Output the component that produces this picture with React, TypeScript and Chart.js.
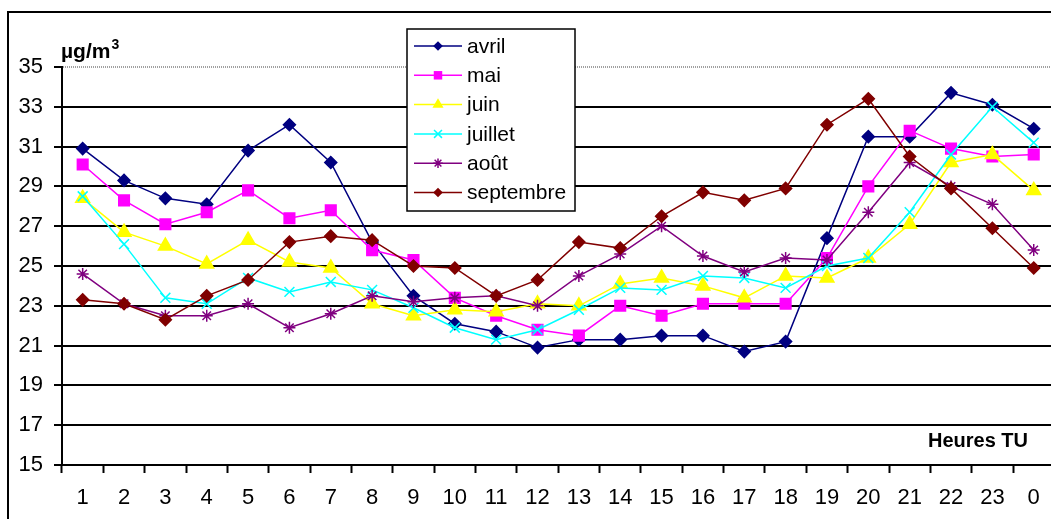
import React, { useEffect, useRef } from 'react';
import { Chart, registerables } from 'chart.js';

Chart.register(...registerables);

const hours = ['1', '2', '3', '4', '5', '6', '7', '8', '9', '10', '11', '12', '13', '14', '15', '16', '17', '18', '19', '20', '21', '22', '23', '0'];

const avril = [30.9, 29.3, 28.4, 28.1, 30.8, 32.1, 30.2, 26.2, 23.5, 22.1, 21.7, 20.9, 21.3, 21.3, 21.5, 21.5, 20.7, 21.2, 26.4, 31.5, 31.5, 33.7, 33.1, 31.9];
const mai = [30.1, 28.3, 27.1, 27.7, 28.8, 27.4, 27.8, 25.8, 25.3, 23.4, 22.5, 21.8, 21.5, 23.0, 22.5, 23.1, 23.1, 23.1, 25.4, 29.0, 31.8, 30.9, 30.5, 30.6];
const juin = [28.4, 26.7, 26.0, 25.1, 26.3, 25.2, 24.9, 23.1, 22.5, 22.8, 22.7, 23.1, 23.0, 24.1, 24.4, 24.0, 23.4, 24.5, 24.4, 25.4, 27.1, 30.2, 30.6, 28.8];
const juillet = [28.5, 26.1, 23.4, 23.1, 24.4, 23.7, 24.2, 23.8, 22.9, 21.9, 21.3, 21.8, 22.8, 23.9, 23.8, 24.5, 24.4, 23.9, 25.0, 25.4, 27.7, 30.6, 33.0, 31.2];
const aout = [24.6, 23.1, 22.5, 22.5, 23.1, 21.9, 22.6, 23.5, 23.2, 23.4, 23.5, 23.0, 24.5, 25.6, 27.0, 25.5, 24.7, 25.4, 25.3, 27.7, 30.2, 29.0, 28.1, 25.8];
const septembre = [23.3, 23.1, 22.3, 23.5, 24.3, 26.2, 26.5, 26.3, 25.0, 24.9, 23.5, 24.3, 26.2, 25.9, 27.5, 28.7, 28.3, 28.9, 32.1, 33.4, 30.5, 28.9, 26.9, 24.9];

const seriesNames = ['avril', 'mai', 'juin', 'juillet', 'août', 'septembre'];
const seriesData = [avril, mai, juin, juillet, aout, septembre];
const seriesColors = ['#000080', '#FF00FF', '#FFFF00', '#00FFFF', '#800080', '#800000'];
const seriesStyles = ['rectRot', 'rect', 'triangle', 'crossRot', 'star', 'rectRot'];
const seriesRadius = [6, 7.5, 8, 7, 6, 6];

const yTitle = 'µg/m';
const yTitleSup = '3';
const xTitle = 'Heures TU';

const FONT = "'Liberation Sans', Arial, sans-serif";

function drawMarker(ctx: CanvasRenderingContext2D, style: string, x: number, y: number, r: number, color: string) {
  ctx.save();
  ctx.fillStyle = color;
  ctx.strokeStyle = color;
  ctx.lineWidth = 1.5;
  ctx.beginPath();
  if (style === 'rectRot') {
    ctx.moveTo(x, y - r);
    ctx.lineTo(x + r, y);
    ctx.lineTo(x, y + r);
    ctx.lineTo(x - r, y);
    ctx.closePath();
    ctx.fill();
  } else if (style === 'rect') {
    const s = r * Math.SQRT1_2;
    ctx.rect(x - s, y - s, 2 * s, 2 * s);
    ctx.fill();
  } else if (style === 'triangle') {
    ctx.moveTo(x, y - r);
    ctx.lineTo(x + r * 0.866, y + r * 0.5);
    ctx.lineTo(x - r * 0.866, y + r * 0.5);
    ctx.closePath();
    ctx.fill();
  } else if (style === 'crossRot') {
    const s = r * Math.SQRT1_2;
    ctx.moveTo(x - s, y - s);
    ctx.lineTo(x + s, y + s);
    ctx.moveTo(x - s, y + s);
    ctx.lineTo(x + s, y - s);
    ctx.stroke();
  } else if (style === 'star') {
    const s = r * Math.SQRT1_2;
    ctx.moveTo(x - s, y - s);
    ctx.lineTo(x + s, y + s);
    ctx.moveTo(x - s, y + s);
    ctx.lineTo(x + s, y - s);
    ctx.moveTo(x, y - r);
    ctx.lineTo(x, y + r);
    ctx.moveTo(x - r, y);
    ctx.lineTo(x + r, y);
    ctx.stroke();
  }
  ctx.restore();
}

const decorPlugin = {
  id: 'decor',
  beforeDraw(chart: any) {
    const ctx = chart.ctx as CanvasRenderingContext2D;
    ctx.save();
    ctx.fillStyle = '#fff';
    ctx.fillRect(0, 0, chart.width, chart.height);
    ctx.restore();
  },
  afterDraw(chart: any) {
    const ctx = chart.ctx as CanvasRenderingContext2D;
    ctx.save();
    // outer frame
    ctx.strokeStyle = '#000';
    ctx.lineWidth = 2;
    ctx.strokeRect(8, 12, 2000, 2000);

    // axis titles
    ctx.fillStyle = '#000';
    ctx.font = `bold 21px ${FONT}`;
    ctx.textAlign = 'left';
    ctx.textBaseline = 'alphabetic';
    ctx.fillText(yTitle, 61, 58);
    const w = ctx.measureText(yTitle).width;
    ctx.font = `bold 14px ${FONT}`;
    ctx.fillText(yTitleSup, 61 + w + 1, 49);

    ctx.font = `bold 20px ${FONT}`;
    ctx.textAlign = 'right';
    ctx.fillText(xTitle, 1028, 447);

    // legend
    const bx = 407, by = 29, bw = 168, bh = 182;
    ctx.fillStyle = '#fff';
    ctx.fillRect(bx, by, bw, bh);
    ctx.strokeStyle = '#000';
    ctx.lineWidth = 1.5;
    ctx.strokeRect(bx, by, bw, bh);
    ctx.font = `21px ${FONT}`;
    ctx.textAlign = 'left';
    ctx.textBaseline = 'middle';
    for (let i = 0; i < seriesNames.length; i++) {
      const ly = 46 + i * 29.3;
      ctx.strokeStyle = seriesColors[i];
      ctx.lineWidth = 1.5;
      ctx.beginPath();
      ctx.moveTo(414, ly);
      ctx.lineTo(462, ly);
      ctx.stroke();
      drawMarker(ctx, seriesStyles[i], 438, ly, seriesRadius[i] * 0.8, seriesColors[i]);
      ctx.fillStyle = '#000';
      ctx.fillText(seriesNames[i], 467, ly + 1);
    }
    ctx.restore();
  },
};

export default function App() {
  const canvasRef = useRef<HTMLCanvasElement | null>(null);

  useEffect(() => {
    if (!canvasRef.current) return;
    Chart.defaults.font.family = FONT;
    const chart = new Chart(canvasRef.current, {
      type: 'line',
      data: {
        labels: hours,
        datasets: seriesData.map((d, i) => ({
          label: seriesNames[i],
          data: d,
          borderColor: seriesColors[i],
          backgroundColor: seriesColors[i],
          pointBorderColor: seriesColors[i],
          pointBackgroundColor: seriesColors[i],
          pointStyle: seriesStyles[i] as any,
          pointRadius: seriesRadius[i],
          pointBorderWidth: 1.5,
          borderWidth: 1.5,
          tension: 0,
          fill: false,
          order: 5 - i,
        })),
      },
      options: {
        animation: false,
        responsive: false,
        devicePixelRatio: 1,
        layout: { padding: { left: 0, top: 67, right: 15.6, bottom: 15 } },
        plugins: {
          legend: { display: false },
          tooltip: { enabled: false },
          title: { display: false },
        },
        scales: {
          x: {
            type: 'category',
            offset: true,
            grid: {
              offset: true,
              drawOnChartArea: false,
              drawTicks: true,
              tickLength: 8,
              tickWidth: 2,
              tickColor: '#000',
              color: '#000',
            },
            border: { display: true, color: '#000', width: 2 },
            ticks: {
              color: '#000',
              font: { family: FONT, size: 22 },
              padding: 12,
              maxRotation: 0,
              autoSkip: false,
            },
            afterFit: (s: any) => {
              s.height = 60;
            },
          },
          y: {
            min: 15,
            max: 35,
            ticks: {
              stepSize: 2,
              color: '#000',
              font: { family: FONT, size: 22 },
              padding: 11,
            },
            grid: {
              color: (c: any) => (c.tick && c.tick.value === 35 ? '#a0a0a0' : '#000'),
              lineWidth: 2,
              tickLength: 8,
              tickWidth: 2,
              tickColor: '#000',
              drawTicks: true,
            },
            border: {
              display: true,
              color: '#000',
              width: 2,
              dash: (c: any) => (c.tick && c.tick.value === 35 ? [1, 1] : []),
            },
            afterFit: (s: any) => {
              s.width = 62;
            },
          },
        },
      },
      plugins: [decorPlugin],
    });
    return () => chart.destroy();
  }, []);

  return (
    <div style={{ position: 'fixed', left: 0, top: 0, width: 1051, height: 519, overflow: 'hidden', background: '#fff' }}>
      <canvas ref={canvasRef} width={1070} height={540} style={{ display: 'block' }} />
    </div>
  );
}
